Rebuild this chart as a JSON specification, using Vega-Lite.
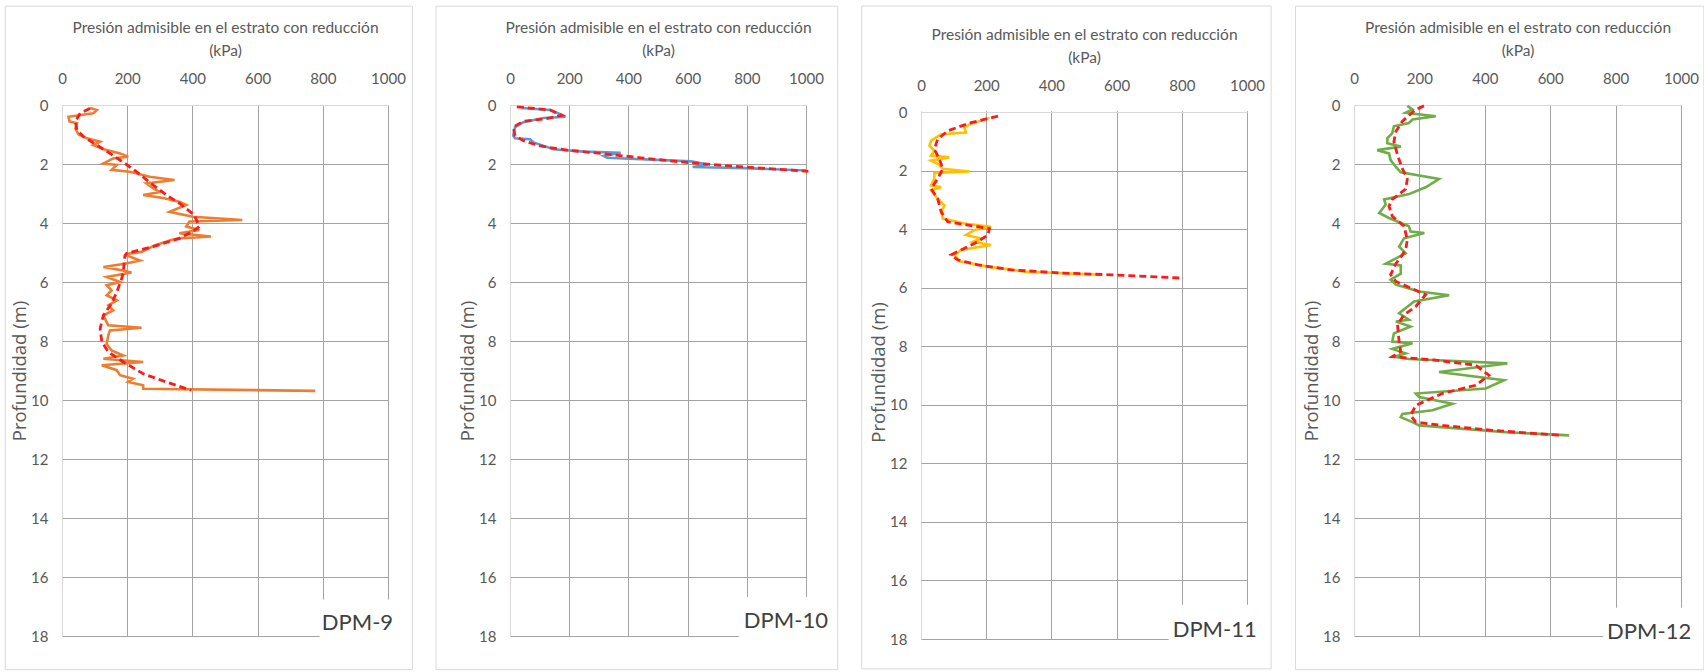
{
  "$schema": "https://vega.github.io/schema/vega-lite/v6.json",
  "background": "white",
  "padding": {"left": 4, "top": 5, "right": 0, "bottom": 0},
  "spacing": 22,
  "config": {
    "view": {"stroke": null},
    "axis": {
      "labelFont": "Lato", "titleFont": "Lato",
      "labelColor": "#595959", "titleColor": "#595959",
      "labelFontSize": 15, "titleFontSize": 15.5, "titleFontWeight": "normal",
      "ticks": false, "domainColor": "#d9d9d9", "domainWidth": 1, "labelFlush": false,
      "grid": true, "gridWidth": 1, "gridOpacity": 1
    },
    "axisX": {"orient": "top", "format": "d", "labelPadding": 19, "titleLineHeight": 23, "titleY": -72.5, "titleBaseline": "alphabetic",
              "gridColor": {"condition": {"test": "datum.value === 0", "value": "#d9d9d9"}, "value": "#a3a3a3"}},
    "axisY": {"labelPadding": 14, "titleFont": "Open Sans", "titleFontSize": 18.5, "titleBaseline": "middle", "titleX": -43,
              "gridColor": {"condition": {"test": "datum.value === 0", "value": "#d9d9d9"}, "value": "#a3a3a3"}}
  },
  "datasets": {
    "m1": [{"d":0.1,"p":86},{"d":0.17,"p":107},{"d":0.28,"p":96},{"d":0.4,"p":20},{"d":0.56,"p":23},{"d":0.62,"p":46},{"d":0.8,"p":41},{"d":1.0,"p":51},{"d":1.13,"p":76},{"d":1.24,"p":117},{"d":1.36,"p":96},{"d":1.53,"p":137},{"d":1.64,"p":178},{"d":1.75,"p":203},{"d":1.81,"p":157},{"d":1.98,"p":127},{"d":2.03,"p":168},{"d":2.2,"p":152},{"d":2.26,"p":208},{"d":2.43,"p":269},{"d":2.54,"p":345},{"d":2.66,"p":259},{"d":2.82,"p":279},{"d":2.95,"p":300},{"d":3.05,"p":249},{"d":3.15,"p":310},{"d":3.28,"p":360},{"d":3.39,"p":381},{"d":3.62,"p":330},{"d":3.79,"p":401},{"d":3.9,"p":553},{"d":3.95,"p":391},{"d":4.12,"p":381},{"d":4.24,"p":421},{"d":4.35,"p":360},{"d":4.46,"p":457},{"d":4.52,"p":360},{"d":4.58,"p":335},{"d":4.76,"p":284},{"d":4.98,"p":244},{"d":5.05,"p":198},{"d":5.1,"p":198},{"d":5.27,"p":239},{"d":5.38,"p":193},{"d":5.49,"p":127},{"d":5.6,"p":183},{"d":5.68,"p":213},{"d":5.83,"p":137},{"d":6.0,"p":178},{"d":6.11,"p":137},{"d":6.28,"p":152},{"d":6.45,"p":137},{"d":6.62,"p":168},{"d":6.79,"p":142},{"d":6.96,"p":157},{"d":7.13,"p":127},{"d":7.36,"p":137},{"d":7.47,"p":142},{"d":7.55,"p":244},{"d":7.64,"p":147},{"d":7.81,"p":142},{"d":8.1,"p":137},{"d":8.32,"p":152},{"d":8.49,"p":188},{"d":8.6,"p":127},{"d":8.71,"p":249},{"d":8.82,"p":122},{"d":8.99,"p":168},{"d":9.16,"p":178},{"d":9.28,"p":218},{"d":9.39,"p":203},{"d":9.5,"p":249},{"d":9.62,"p":249},{"d":9.69,"p":777}],
    "t1": [{"d":0.11,"p":86},{"d":0.28,"p":56},{"d":0.56,"p":41},{"d":0.85,"p":46},{"d":1.07,"p":66},{"d":1.36,"p":107},{"d":1.64,"p":147},{"d":1.98,"p":193},{"d":2.26,"p":228},{"d":2.71,"p":279},{"d":3.05,"p":320},{"d":3.33,"p":360},{"d":3.73,"p":406},{"d":4.12,"p":421},{"d":4.29,"p":401},{"d":4.52,"p":360},{"d":4.8,"p":279},{"d":5.03,"p":198},{"d":5.1,"p":193},{"d":5.66,"p":188},{"d":5.89,"p":183},{"d":6.34,"p":168},{"d":6.73,"p":152},{"d":7.13,"p":127},{"d":7.58,"p":117},{"d":8.03,"p":122},{"d":8.37,"p":142},{"d":8.71,"p":188},{"d":9.11,"p":249},{"d":9.39,"p":320},{"d":9.67,"p":396}],
    "m2": [{"d":0.1,"p":40},{"d":0.17,"p":136},{"d":0.29,"p":164},{"d":0.4,"p":187},{"d":0.44,"p":113},{"d":0.58,"p":45},{"d":0.75,"p":17},{"d":1.04,"p":11},{"d":1.13,"p":17},{"d":1.16,"p":68},{"d":1.27,"p":79},{"d":1.5,"p":147},{"d":1.58,"p":250},{"d":1.62,"p":374},{"d":1.73,"p":317},{"d":1.79,"p":328},{"d":1.91,"p":612},{"d":2.02,"p":668},{"d":2.1,"p":617},{"d":2.14,"p":793},{"d":2.22,"p":1000}],
    "t2": [{"d":0.06,"p":23},{"d":0.17,"p":136},{"d":0.35,"p":175},{"d":0.46,"p":124},{"d":0.55,"p":45},{"d":0.75,"p":11},{"d":1.04,"p":17},{"d":1.21,"p":45},{"d":1.39,"p":102},{"d":1.53,"p":193},{"d":1.64,"p":306},{"d":1.79,"p":442},{"d":1.94,"p":589},{"d":2.08,"p":759},{"d":2.25,"p":1008}],
    "m3": [{"d":0.2,"p":210},{"d":0.42,"p":149},{"d":0.53,"p":133},{"d":0.7,"p":138},{"d":0.76,"p":62},{"d":0.98,"p":31},{"d":1.15,"p":26},{"d":1.32,"p":41},{"d":1.49,"p":31},{"d":1.55,"p":87},{"d":1.66,"p":31},{"d":1.77,"p":51},{"d":1.94,"p":67},{"d":2.03,"p":149},{"d":2.08,"p":41},{"d":2.28,"p":41},{"d":2.51,"p":31},{"d":2.56,"p":62},{"d":2.68,"p":31},{"d":2.96,"p":51},{"d":3.19,"p":72},{"d":3.41,"p":62},{"d":3.64,"p":67},{"d":3.81,"p":133},{"d":3.92,"p":215},{"d":4.03,"p":164},{"d":4.2,"p":138},{"d":4.32,"p":185},{"d":4.43,"p":159},{"d":4.54,"p":215},{"d":4.71,"p":123},{"d":4.88,"p":103},{"d":5.1,"p":118},{"d":5.28,"p":205},{"d":5.45,"p":318},{"d":5.56,"p":554}],
    "t3": [{"d":0.14,"p":236},{"d":0.36,"p":154},{"d":0.64,"p":82},{"d":0.93,"p":51},{"d":1.27,"p":41},{"d":1.6,"p":56},{"d":1.94,"p":67},{"d":2.28,"p":51},{"d":2.62,"p":31},{"d":2.96,"p":51},{"d":3.41,"p":62},{"d":3.75,"p":82},{"d":3.86,"p":144},{"d":3.98,"p":210},{"d":4.2,"p":205},{"d":4.43,"p":174},{"d":4.71,"p":123},{"d":4.88,"p":92},{"d":5.05,"p":113},{"d":5.22,"p":174},{"d":5.39,"p":277},{"d":5.5,"p":431},{"d":5.56,"p":585},{"d":5.67,"p":795}],
    "m4": [{"d":0.03,"p":163},{"d":0.15,"p":179},{"d":0.26,"p":158},{"d":0.38,"p":250},{"d":0.49,"p":179},{"d":0.61,"p":168},{"d":0.72,"p":122},{"d":0.95,"p":117},{"d":1.13,"p":102},{"d":1.3,"p":102},{"d":1.41,"p":143},{"d":1.53,"p":71},{"d":1.64,"p":107},{"d":1.87,"p":112},{"d":2.1,"p":128},{"d":2.28,"p":143},{"d":2.51,"p":260},{"d":2.79,"p":219},{"d":3.02,"p":168},{"d":3.2,"p":92},{"d":3.37,"p":97},{"d":3.66,"p":77},{"d":3.83,"p":107},{"d":4.11,"p":168},{"d":4.29,"p":173},{"d":4.34,"p":215},{"d":4.52,"p":153},{"d":4.8,"p":138},{"d":5.03,"p":158},{"d":5.38,"p":97},{"d":5.44,"p":143},{"d":5.72,"p":143},{"d":5.92,"p":112},{"d":6.09,"p":128},{"d":6.32,"p":199},{"d":6.45,"p":291},{"d":6.66,"p":184},{"d":7.06,"p":138},{"d":7.28,"p":168},{"d":7.34,"p":128},{"d":7.51,"p":173},{"d":7.74,"p":122},{"d":8.02,"p":117},{"d":8.08,"p":179},{"d":8.27,"p":117},{"d":8.42,"p":158},{"d":8.53,"p":122},{"d":8.61,"p":168},{"d":8.76,"p":469},{"d":9.05,"p":260},{"d":9.33,"p":459},{"d":9.61,"p":403},{"d":9.78,"p":189},{"d":9.9,"p":199},{"d":10.13,"p":301},{"d":10.35,"p":240},{"d":10.47,"p":148},{"d":10.58,"p":143},{"d":10.75,"p":179},{"d":10.86,"p":199},{"d":11.09,"p":464},{"d":11.2,"p":658}],
    "t4": [{"d":0.03,"p":214},{"d":0.15,"p":189},{"d":0.55,"p":148},{"d":0.9,"p":128},{"d":1.24,"p":122},{"d":1.7,"p":133},{"d":2.16,"p":148},{"d":2.51,"p":163},{"d":2.85,"p":158},{"d":3.2,"p":117},{"d":3.43,"p":107},{"d":3.77,"p":117},{"d":4.11,"p":153},{"d":4.57,"p":163},{"d":4.92,"p":158},{"d":5.38,"p":128},{"d":5.75,"p":112},{"d":5.98,"p":128},{"d":6.43,"p":219},{"d":6.83,"p":189},{"d":7.11,"p":153},{"d":7.45,"p":133},{"d":8.02,"p":138},{"d":8.36,"p":143},{"d":8.53,"p":117},{"d":8.65,"p":250},{"d":8.82,"p":372},{"d":9.16,"p":413},{"d":9.5,"p":372},{"d":9.78,"p":270},{"d":10.18,"p":189},{"d":10.52,"p":173},{"d":10.75,"p":189},{"d":10.86,"p":270},{"d":11.03,"p":423},{"d":11.2,"p":638}]
  },
  "hconcat": [
    {
      "width": 326, "height": 531,
      "data": {"values": [{"pozo": "DPM-9"}]},
      "layer": [
        {"mark": {"type": "rect", "filled": false, "stroke": "#d9d9d9", "strokeWidth": 1},
         "encoding": {"x": {"datum": -174}, "x2": {"datum": 1075}, "y": {"datum": -3.35}, "y2": {"datum": 19.14}}},
        {"data": {"name": "m1"}, "mark": {"type": "line", "color": "#ED7D31", "strokeWidth": 2.6},
         "encoding": {
           "x": {"field": "p", "type": "quantitative", "scale": {"domain": [0, 1000], "nice": false}, "axis": {"values": [0,200,400,600,800,1000], "labelFlush": false, "title": ["Presión admisible en el estrato con reducción", "(kPa)"]}},
           "y": {"field": "d", "type": "quantitative", "scale": {"domain": [0, 18], "reverse": true, "nice": false}, "axis": {"values": [0,2,4,6,8,10,12,14,16,18], "labelFlush": false, "title": "Profundidad (m)"}},
           "order": {"field": "d", "type": "quantitative"}}},
        {"data": {"name": "t1"}, "mark": {"type": "line", "color": "#FF1A1A", "strokeWidth": 2.8, "strokeDash": [7, 4]},
         "encoding": {"x": {"field": "p", "type": "quantitative"}, "y": {"field": "d", "type": "quantitative"}, "order": {"field": "d", "type": "quantitative"}}},
        {"mark": {"type": "rect", "fill": "white"},
         "encoding": {"x": {"datum": 790}, "x2": {"datum": 1030}, "y": {"datum": 16.76}, "y2": {"datum": 18.6}}},
        {"mark": {"type": "text", "font": "Lato", "fontSize": 22, "color": "#404040", "align": "left", "baseline": "middle"},
         "encoding": {"x": {"datum": 797}, "y": {"datum": 17.56}, "text": {"field": "pozo"}}}
      ]
    },
    {
      "width": 296, "height": 531,
      "data": {"values": [{"pozo": "DPM-10"}]},
      "layer": [
        {"mark": {"type": "rect", "filled": false, "stroke": "#d9d9d9", "strokeWidth": 1},
         "encoding": {"x": {"datum": -250}, "x2": {"datum": 1107}, "y": {"datum": -3.35}, "y2": {"datum": 19.14}}},
        {"data": {"name": "m2"}, "mark": {"type": "line", "color": "#5B9BD5", "strokeWidth": 2.6},
         "encoding": {
           "x": {"field": "p", "type": "quantitative", "scale": {"domain": [0, 1000], "nice": false}, "axis": {"values": [0,200,400,600,800,1000], "labelFlush": false, "title": ["Presión admisible en el estrato con reducción", "(kPa)"]}},
           "y": {"field": "d", "type": "quantitative", "scale": {"domain": [0, 18], "reverse": true, "nice": false}, "axis": {"values": [0,2,4,6,8,10,12,14,16,18], "labelFlush": false, "title": "Profundidad (m)"}},
           "order": {"field": "d", "type": "quantitative"}}},
        {"data": {"name": "t2"}, "mark": {"type": "line", "color": "#FF1A1A", "strokeWidth": 2.8, "strokeDash": [7, 4]},
         "encoding": {"x": {"field": "p", "type": "quantitative"}, "y": {"field": "d", "type": "quantitative"}, "order": {"field": "d", "type": "quantitative"}}},
        {"mark": {"type": "rect", "fill": "white"},
         "encoding": {"x": {"datum": 773}, "x2": {"datum": 1030}, "y": {"datum": 16.68}, "y2": {"datum": 18.6}}},
        {"mark": {"type": "text", "font": "Lato", "fontSize": 22, "color": "#404040", "align": "left", "baseline": "middle"},
         "encoding": {"x": {"datum": 790}, "y": {"datum": 17.49}, "text": {"field": "pozo"}}}
      ]
    },
    {
      "width": 326, "height": 534,
      "data": {"values": [{"pozo": "DPM-11"}]},
      "layer": [
        {"mark": {"type": "rect", "filled": false, "stroke": "#d9d9d9", "strokeWidth": 1},
         "encoding": {"x": {"datum": -182}, "x2": {"datum": 1074}, "y": {"datum": -3.62}, "y2": {"datum": 19.02}}},
        {"data": {"name": "m3"}, "mark": {"type": "line", "color": "#FFC000", "strokeWidth": 2.6},
         "encoding": {
           "x": {"field": "p", "type": "quantitative", "scale": {"domain": [0, 1000], "nice": false}, "axis": {"values": [0,200,400,600,800,1000], "labelFlush": false, "domain": false, "labelPadding": 12, "titleY": -65.5, "title": ["Presión admisible en el estrato con reducción", "(kPa)"]}},
           "y": {"field": "d", "type": "quantitative", "scale": {"domain": [-0.24, 18], "reverse": true, "nice": false, "zero": false}, "axis": {"values": [0,2,4,6,8,10,12,14,16,18], "labelFlush": false, "domain": false, "title": "Profundidad (m)"}},
           "order": {"field": "d", "type": "quantitative"}}},
        {"data": {"name": "t3"}, "mark": {"type": "line", "color": "#FF1A1A", "strokeWidth": 2.8, "strokeDash": [7, 4]},
         "encoding": {"x": {"field": "p", "type": "quantitative"}, "y": {"field": "d", "type": "quantitative"}, "order": {"field": "d", "type": "quantitative"}}},
        {"mark": {"type": "rect", "fill": "white"},
         "encoding": {"x": {"datum": -5}, "x2": {"datum": 1005}, "y": {"datum": -0.26}, "y2": {"datum": -0.025}}},
        {"mark": {"type": "rect", "fill": "white"},
         "encoding": {"x": {"datum": 760}, "x2": {"datum": 1030}, "y": {"datum": 16.83}, "y2": {"datum": 18.6}}},
        {"mark": {"type": "text", "font": "Lato", "fontSize": 22, "color": "#404040", "align": "left", "baseline": "middle"},
         "encoding": {"x": {"datum": 772}, "y": {"datum": 17.68}, "text": {"field": "pozo"}}}
      ]
    },
    {
      "width": 327, "height": 531,
      "data": {"values": [{"pozo": "DPM-12"}]},
      "layer": [
        {"mark": {"type": "rect", "filled": false, "stroke": "#d9d9d9", "strokeWidth": 1},
         "encoding": {"x": {"datum": -179}, "x2": {"datum": 1070}, "y": {"datum": -3.35}, "y2": {"datum": 19.14}}},
        {"data": {"name": "m4"}, "mark": {"type": "line", "color": "#70AD47", "strokeWidth": 2.6},
         "encoding": {
           "x": {"field": "p", "type": "quantitative", "scale": {"domain": [0, 1000], "nice": false}, "axis": {"values": [0,200,400,600,800,1000], "labelFlush": false, "title": ["Presión admisible en el estrato con reducción", "(kPa)"]}},
           "y": {"field": "d", "type": "quantitative", "scale": {"domain": [0, 18], "reverse": true, "nice": false}, "axis": {"values": [0,2,4,6,8,10,12,14,16,18], "labelFlush": false, "title": "Profundidad (m)"}},
           "order": {"field": "d", "type": "quantitative"}}},
        {"data": {"name": "t4"}, "mark": {"type": "line", "color": "#FF1A1A", "strokeWidth": 2.8, "strokeDash": [7, 4]},
         "encoding": {"x": {"field": "p", "type": "quantitative"}, "y": {"field": "d", "type": "quantitative"}, "order": {"field": "d", "type": "quantitative"}}},
        {"mark": {"type": "rect", "fill": "white"},
         "encoding": {"x": {"datum": 762}, "x2": {"datum": 1030}, "y": {"datum": 17.04}, "y2": {"datum": 18.6}}},
        {"mark": {"type": "text", "font": "Lato", "fontSize": 22, "color": "#404040", "align": "left", "baseline": "middle"},
         "encoding": {"x": {"datum": 774}, "y": {"datum": 17.86}, "text": {"field": "pozo"}}}
      ]
    }
  ]
}
